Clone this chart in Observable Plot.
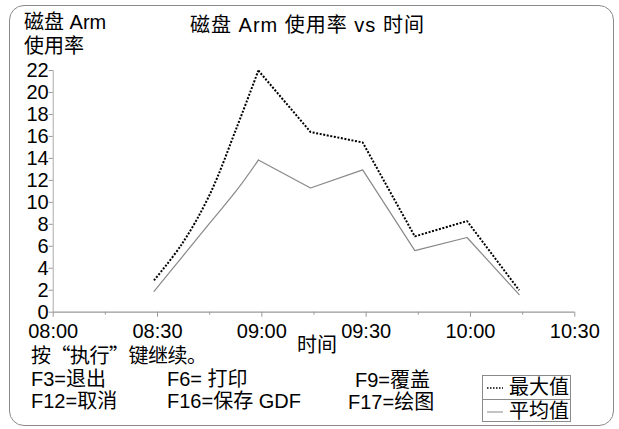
<!DOCTYPE html>
<html>
<head>
<meta charset="utf-8">
<script src="https://cdn.jsdelivr.net/npm/d3@7"></script>
<script src="https://cdn.jsdelivr.net/npm/@observablehq/plot@0.6"></script>
<style>
  html, body { margin: 0; padding: 0; background: #fff; }
  #wrap { position: relative; width: 619px; height: 429px; overflow: hidden;
          font-family: "Liberation Sans", "Noto Sans CJK SC", sans-serif; color: #000; }
  #frame { position: absolute; left: 9px; top: 5px; width: 605px; height: 421px;
           border: 1px solid #8a8a8a; border-radius: 15px; box-sizing: border-box; }
  .t { position: absolute; white-space: pre; font-size: 20px; line-height: 20px; }
  #chart { position: absolute; left: 0; top: 0; }
  #legend { position: absolute; left: 482px; top: 375px; width: 89px; height: 47px;
            border: 1px solid #8a8a8a; box-sizing: border-box; }
  #legend .row { position: absolute; left: 0; width: 87px; height: 22px; }
  #legend .row2 { top: 23px; border-top: 1px solid #8a8a8a; }
  #legend svg { position: absolute; left: 4px; top: 10px; }
  #legend span { position: absolute; left: 26px; top: 0px; font-size: 20px; line-height: 22px; }
</style>
</head>
<body>
<div id="wrap">
  <div id="frame"></div>
  <div id="chart"></div>
  <div class="t" id="title" style="left:190px; top:15px; letter-spacing:1px;"></div>
  <div class="t" id="ylab1" style="left:24px; top:12px;"></div>
  <div class="t" id="ylab2" style="left:24px; top:36px;"></div>
  <div class="t" id="xlab" style="left:297px; top:335px;"></div>
  <div class="t" id="prompt" style="left:31px; top:345px; font-family:'Noto Sans CJK SC', sans-serif; letter-spacing:-0.5px;"></div>
  <div class="t" id="k1" style="left:31px; top:369px;"></div>
  <div class="t" id="k2" style="left:167px; top:369px;"></div>
  <div class="t" id="k3" style="left:355px; top:370px;"></div>
  <div class="t" id="k4" style="left:31px; top:391px;"></div>
  <div class="t" id="k5" style="left:167px; top:391px;"></div>
  <div class="t" id="k6" style="left:348px; top:392px;"></div>
  <div id="legend">
    <div class="row"><svg width="20" height="4"><line x1="0" y1="2" x2="16" y2="2" stroke="#000" stroke-width="1.5" stroke-dasharray="1.5,1.5"/></svg><span id="lg1"></span></div>
    <div class="row row2"><svg width="20" height="4"><line x1="0" y1="2" x2="16" y2="2" stroke="#888" stroke-width="1"/></svg><span id="lg2"></span></div>
  </div>
</div>
<script>
// ---- data ----
const times = ["08:29","08:37","08:45","08:53","08:59","09:14","09:29","09:44","09:59","10:14"];
const maxValues = [2.9, 6.2, 10.7, 17.0, 22.0, 16.4, 15.45, 6.9, 8.3, 2.0];
const avgValues = [1.9, 5.0, 8.1, 11.2, 13.85, 11.3, 12.95, 5.6, 6.8, 1.6];
const yTicks = [0, 2, 4, 6, 8, 10, 12, 14, 16, 18, 20, 22];
const xTickLabels = ["08:00", "08:30", "09:00", "09:30", "10:00", "10:30"];
const xMinorTickLabels = ["08:15", "08:45", "09:15", "09:45", "10:15"];
const seriesNames = ["最大值", "平均值"];
const titleText = "磁盘 Arm 使用率 vs 时间";
const yLabelLines = ["磁盘 Arm", "使用率"];
const xLabelText = "时间";
const promptText = "按“执行”键继续。";
const keyTexts = ["F3=退出", "F6= 打印", "F9=覆盖", "F12=取消", "F16=保存 GDF", "F17=绘图"];

// ---- build ----
const t = s => { const [h, m] = s.split(":").map(Number); return new Date(Date.UTC(2000, 0, 1, h, m)); };
const maxData = times.map((s, i) => ({time: t(s), value: maxValues[i], i}));
const avgData = times.map((s, i) => ({time: t(s), value: avgValues[i], i}));
const peak = 4; // index where the smooth rise ends
const xTicks = xTickLabels.map(t);
const xMinor = xMinorTickLabels.map(t);
const fmt = d3.utcFormat("%H:%M");
const dotted = {stroke: "#000", strokeWidth: 2, strokeDasharray: "2,1.6", strokeLinecap: "butt", strokeLinejoin: "miter"};
const solid = {stroke: "#888", strokeWidth: 1.2};

const chart = Plot.plot({
  width: 619,
  height: 429,
  marginLeft: 52.7,
  marginRight: 44.7,
  marginTop: 70,
  marginBottom: 117.3,
  x: {type: "utc", domain: [xTicks[0], xTicks[xTicks.length - 1]]},
  y: {domain: [0, 22]},
  style: {fontFamily: "'Liberation Sans', 'Noto Sans CJK SC', sans-serif", fontSize: "20px", background: "transparent", color: "#000", overflow: "visible"},
  marks: [
    Plot.ruleY([0], {stroke: "#999", strokeWidth: 1.2}),
    Plot.ruleX([xTicks[0]], {stroke: "#aaa", strokeWidth: 1}),
    Plot.axisY(yTicks, {tickSize: 4, tickPadding: 0.5, stroke: "#999", fill: "#000", fontSize: 20, label: null}),
    Plot.axisX(xMinor, {tickSize: 3, stroke: "#999", tickFormat: () => "", label: null}),
    Plot.axisX(xTicks, {tickSize: 5, tickPadding: 6.5, tickFormat: fmt, stroke: "#999", fill: "#000", fontSize: 20, letterSpacing: "-1px", label: null}),
    Plot.line(avgData.filter(d => d.i <= peak), {x: "time", y: "value", curve: "catmull-rom", ...solid}),
    Plot.line(avgData.filter(d => d.i >= peak), {x: "time", y: "value", ...solid}),
    Plot.line(maxData.filter(d => d.i <= peak), {x: "time", y: "value", curve: "catmull-rom", ...dotted}),
    Plot.line(maxData.filter(d => d.i >= peak), {x: "time", y: "value", ...dotted})
  ]
});
document.getElementById("chart").appendChild(chart);

document.getElementById("title").textContent = titleText;
document.getElementById("ylab1").textContent = yLabelLines[0];
document.getElementById("ylab2").textContent = yLabelLines[1];
document.getElementById("xlab").textContent = xLabelText;
document.getElementById("prompt").textContent = promptText;
["k1","k2","k3","k4","k5","k6"].forEach((id, i) => document.getElementById(id).textContent = keyTexts[i]);
document.getElementById("lg1").textContent = seriesNames[0];
document.getElementById("lg2").textContent = seriesNames[1];
</script>
</body>
</html>
